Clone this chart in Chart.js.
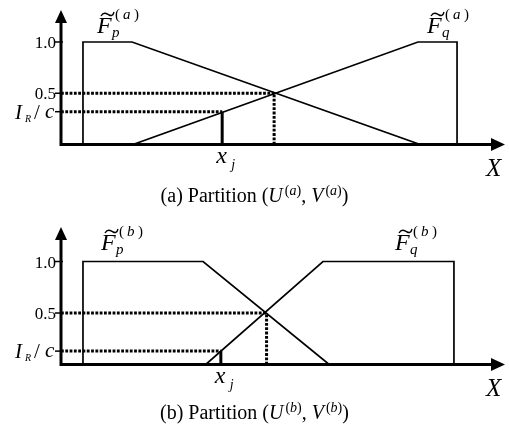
<!DOCTYPE html>
<html>
<head>
<meta charset="utf-8">
<script src="https://cdn.jsdelivr.net/npm/chart.js@4.4.1/dist/chart.umd.min.js"></script>
<style>
  body { margin: 0; background: #fff; width: 509px; height: 431px; position: relative; overflow: hidden; }
  canvas { position: absolute; left: 0; }
  .cap { position: absolute; left: 0; width: 509px; text-align: center; color: #000;
         font: 20px "Liberation Serif", "Times New Roman", serif; line-height: 22px; }
  .cap sup { font-size: 14px; line-height: 0; vertical-align: 0; position: relative; top: -7px; margin-left: 2px; }
</style>
</head>
<body>
<canvas id="chartA" width="509" height="215" style="top:0"></canvas>
<canvas id="chartB" width="509" height="216" style="top:215px"></canvas>
<div class="cap" style="top:184px">(a) Partition (<i>U</i><sup>(<i>a</i>)</sup>, <i>V</i><sup>(<i>a</i>)</sup>)</div>
<div class="cap" style="top:401px">(b) Partition (<i>U</i><sup>(<i>b</i>)</sup>, <i>V</i><sup>(<i>b</i>)</sup>)</div>
<script>
// membership functions, x on a 0..100 universe, y = membership degree
// partition (a): wide overlapping slopes
var aFpX = [4.95, 4.95, 16.0, 80.9]
var aFpY = [0, 1, 1, 0]
var aFqX = [16.2, 80.4, 89.2, 89.2]
var aFqY = [0, 1, 1, 0]
var aCross = 48.0      // where F_p and F_q meet at 0.5
var aXj = 36.3         // position of x_j
var aIrc = 0.32        // I_R / c level

// partition (b): steeper slopes, narrower overlap
var bFpX = [4.95, 4.95, 32.0, 60.4]
var bFpY = [0, 1, 1, 0]
var bFqX = [32.6, 59.0, 88.5, 88.5]
var bFqY = [0, 1, 1, 0]
var bCross = 46.3
var bXj = 36.0
var bIrc = 0.13

var tickValues = [1.0, 0.5]
var tickLabels = ['1.0', '0.5']

var SERIF = '"Liberation Serif", "Times New Roman", serif'

function pts(xs, ys) {
    return xs.map((x, i) => ({x: x, y: ys[i]}))
}

// draws the axes with arrow heads, the y ticks and all the math labels
var fuzzyDeco = {
    id: 'fuzzyDeco',
    afterDatasetsDraw(chart, args, opts) {
        var ctx = chart.ctx
        var xs = chart.scales.x
        var ys = chart.scales.y
        var x0 = xs.getPixelForValue(0)
        var y0 = ys.getPixelForValue(0)
        var top = chart.chartArea.top
        var right = chart.chartArea.right
        ctx.save()
        ctx.fillStyle = '#000'
        ctx.strokeStyle = '#000'

        // axis lines
        ctx.lineWidth = 3
        ctx.beginPath()
        ctx.moveTo(x0, y0 + 1.5)
        ctx.lineTo(x0, top + 10)
        ctx.moveTo(x0 - 1.5, y0)
        ctx.lineTo(right - 12, y0)
        ctx.stroke()
        // arrow heads
        ctx.beginPath()
        ctx.moveTo(x0, top)
        ctx.lineTo(x0 - 6, top + 13)
        ctx.lineTo(x0 + 6, top + 13)
        ctx.closePath()
        ctx.fill()
        ctx.beginPath()
        ctx.moveTo(right, y0)
        ctx.lineTo(right - 14, y0 - 6.5)
        ctx.lineTo(right - 14, y0 + 6.5)
        ctx.closePath()
        ctx.fill()

        // y ticks
        ctx.lineWidth = 1.5
        var tickYs = tickValues.map(v => ys.getPixelForValue(v)).concat([ys.getPixelForValue(opts.irc)])
        tickYs.forEach(py => {
            ctx.beginPath()
            ctx.moveTo(x0 - 6, py)
            ctx.lineTo(x0 + 2, py)
            ctx.stroke()
        })
        ctx.font = '17px ' + SERIF
        ctx.textAlign = 'right'
        ctx.textBaseline = 'alphabetic'
        tickValues.forEach((v, i) => {
            ctx.fillText(tickLabels[i], x0 - 5, ys.getPixelForValue(v) + 6)
        })
        // I_R / c
        var iy = ys.getPixelForValue(opts.irc) + 7
        ctx.textAlign = 'left'
        ctx.font = 'italic 21px ' + SERIF
        ctx.fillText('I', x0 - 46, iy)
        ctx.font = 'italic 10px ' + SERIF
        ctx.fillText('R', x0 - 36, iy + 3)
        ctx.font = '21px ' + SERIF
        ctx.fillText('/', x0 - 27, iy)
        ctx.font = 'italic 21px ' + SERIF
        ctx.fillText('c', x0 - 16, iy - 1)

        // set labels
        opts.sets.forEach(s => drawSet(ctx, s.x, s.base, s.sub, opts.tag))

        // x_j under its bar
        var jx = xs.getPixelForValue(opts.xj)
        ctx.font = 'italic 24px ' + SERIF
        ctx.fillText('x', jx - 6, y0 + 18)
        ctx.font = 'italic 14px ' + SERIF
        ctx.fillText('j', jx + 9, y0 + 24)

        // axis name
        ctx.font = 'italic 25px ' + SERIF
        ctx.fillText('X', right - 19, y0 + 31)
        ctx.restore()
    }
}

function drawSet(ctx, x, base, sub, tag) {
    ctx.font = 'italic 24px ' + SERIF
    ctx.fillText('F', x, base)
    // tilde over the F
    ctx.lineWidth = 1.4
    ctx.beginPath()
    ctx.moveTo(x + 4, base - 17)
    ctx.bezierCurveTo(x + 7, base - 22, x + 10, base - 19, x + 12, base - 18)
    ctx.bezierCurveTo(x + 14, base - 17, x + 16, base - 17, x + 17, base - 21)
    ctx.stroke()
    ctx.font = 'italic 15px ' + SERIF
    ctx.fillText(sub, x + 15, base + 4)
    ctx.font = '15px ' + SERIF
    ctx.fillText('(', x + 18, base - 14)
    ctx.font = 'italic 15px ' + SERIF
    ctx.fillText(tag, x + 26, base - 14)
    ctx.font = '15px ' + SERIF
    ctx.fillText(')', x + 37, base - 14)
}

function makeChart(id, fpX, fpY, fqX, fqY, cross, xj, irc, yMax, pad, tag, sets) {
    var solid = {showLine: true, borderColor: '#000', borderWidth: 1.7, pointRadius: 0, fill: false}
    var dotted = {showLine: true, borderColor: '#000', borderWidth: 3, borderDash: [2.8, 1.5], pointRadius: 0, fill: false}
    return new Chart(document.getElementById(id), {
        type: 'scatter',
        data: {
            datasets: [
                Object.assign({label: 'half', data: [{x: 0, y: 0.5}, {x: cross, y: 0.5}]}, dotted),
                Object.assign({label: 'cut', data: [{x: 0, y: irc}, {x: xj, y: irc}]}, dotted),
                Object.assign({label: 'cross', data: [{x: cross, y: 0}, {x: cross, y: 0.5}]}, dotted),
                Object.assign({label: 'Fp', data: pts(fpX, fpY)}, solid),
                Object.assign({label: 'Fq', data: pts(fqX, fqY)}, solid),
                Object.assign({label: 'xj', data: [{x: xj, y: 0}, {x: xj, y: irc}]}, solid, {borderWidth: 3})
            ]
        },
        options: {
            responsive: false,
            animation: false,
            layout: {padding: pad},
            scales: {
                x: {type: 'linear', min: 0, max: 100, display: false},
                y: {type: 'linear', min: 0, max: yMax, display: false}
            },
            plugins: {
                legend: {display: false},
                tooltip: {enabled: false},
                fuzzyDeco: {tag: tag, xj: xj, irc: irc, sets: sets}
            }
        },
        plugins: [fuzzyDeco]
    })
}

makeChart('chartA', aFpX, aFpY, aFqX, aFqY, aCross, aXj, aIrc, 1.312,
    {left: 61, right: 4, top: 10, bottom: 70.5}, 'a',
    [{x: 97, base: 33, sub: 'p'}, {x: 427, base: 33, sub: 'q'}])
makeChart('chartB', bFpX, bFpY, bFqX, bFqY, bCross, bXj, bIrc, 1.335,
    {left: 61, right: 4, top: 12, bottom: 66.5}, 'b',
    [{x: 101, base: 35, sub: 'p'}, {x: 395, base: 35, sub: 'q'}])
</script>
</body>
</html>
